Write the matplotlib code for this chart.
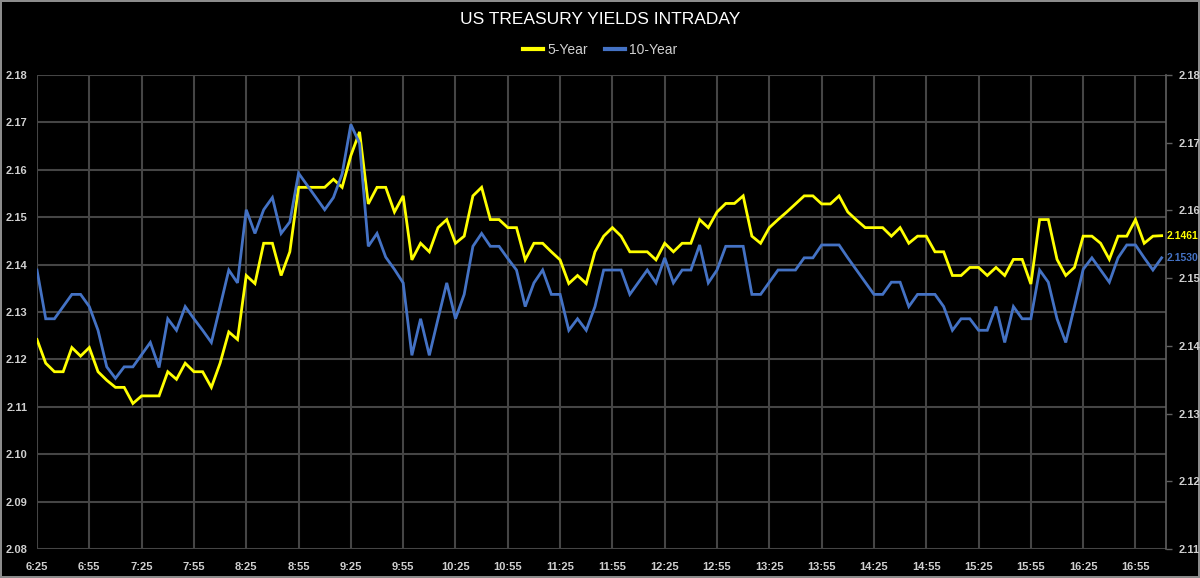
import matplotlib
matplotlib.use("Agg")
import matplotlib.pyplot as plt
import numpy as np

# ---- data ----
tick_labels = ["6:25", "6:55", "7:25", "7:55", "8:25", "8:55", "9:25", "9:55",
               "10:25", "10:55", "11:25", "11:55", "12:25", "12:55", "13:25",
               "13:55", "14:25", "14:55", "15:25", "15:55", "16:25", "16:55"]

five_year = [
    2.1242, 2.1192, 2.1174, 2.1174, 2.1225, 2.1207, 2.1225, 2.1174, 2.1156, 2.1141,
    2.1141, 2.1107, 2.1123, 2.1123, 2.1123, 2.1174, 2.1158, 2.1192, 2.1174, 2.1174,
    2.1141, 2.1192, 2.1258, 2.1242, 2.1377, 2.1360, 2.1445, 2.1445, 2.1377, 2.1427,
    2.1563, 2.1563, 2.1563, 2.1563, 2.1580, 2.1563, 2.1630, 2.1680, 2.1528, 2.1563,
    2.1563, 2.1511, 2.1545, 2.1410, 2.1445, 2.1427, 2.1478, 2.1495, 2.1445, 2.1460,
    2.1545, 2.1563, 2.1495, 2.1495, 2.1478, 2.1478, 2.1410, 2.1445, 2.1445, 2.1427,
    2.1410, 2.1360, 2.1377, 2.1360, 2.1427, 2.1460, 2.1478, 2.1460, 2.1427, 2.1427,
    2.1427, 2.1410, 2.1445, 2.1427, 2.1445, 2.1445, 2.1495, 2.1478, 2.1511, 2.1529,
    2.1529, 2.1545, 2.1460, 2.1445, 2.1478, 2.1495, 2.1511, 2.1528, 2.1545, 2.1545,
    2.1528, 2.1528, 2.1545, 2.1511, 2.1494, 2.1478, 2.1478, 2.1478, 2.1460, 2.1478,
    2.1445, 2.1460, 2.1460, 2.1427, 2.1427, 2.1377, 2.1377, 2.1394, 2.1394, 2.1377,
    2.1394, 2.1377, 2.1411, 2.1411, 2.1359, 2.1495, 2.1495, 2.1411, 2.1377, 2.1394,
    2.1460, 2.1460, 2.1445, 2.1411, 2.1460, 2.1460, 2.1495, 2.1445, 2.1460, 2.1461,
]

ten_year = [
    2.1512, 2.1440, 2.1440, 2.1458, 2.1476, 2.1476, 2.1458, 2.1423, 2.1369, 2.1352,
    2.1369, 2.1369, 2.1387, 2.1405, 2.1368, 2.1440, 2.1423, 2.1458, 2.1440, 2.1423,
    2.1405, 2.1458, 2.1512, 2.1493, 2.1601, 2.1566, 2.1601, 2.1619, 2.1566, 2.1583,
    2.1655, 2.1637, 2.1619, 2.1601, 2.1619, 2.1654, 2.1727, 2.1699, 2.1547, 2.1566,
    2.1531, 2.1513, 2.1493, 2.1386, 2.1440, 2.1386, 2.1440, 2.1493, 2.1440, 2.1476,
    2.1547, 2.1566, 2.1547, 2.1547, 2.1529, 2.1512, 2.1458, 2.1493, 2.1512, 2.1476,
    2.1476, 2.1423, 2.1440, 2.1423, 2.1458, 2.1512, 2.1512, 2.1512, 2.1476, 2.1494,
    2.1512, 2.1493, 2.1530, 2.1493, 2.1512, 2.1512, 2.1549, 2.1493, 2.1512, 2.1547,
    2.1547, 2.1547, 2.1476, 2.1476, 2.1494, 2.1512, 2.1512, 2.1512, 2.1530, 2.1530,
    2.1549, 2.1549, 2.1549, 2.1530, 2.1512, 2.1494, 2.1476, 2.1476, 2.1494, 2.1494,
    2.1458, 2.1476, 2.1476, 2.1476, 2.1458, 2.1423, 2.1440, 2.1440, 2.1423, 2.1423,
    2.1458, 2.1405, 2.1458, 2.1440, 2.1440, 2.1512, 2.1494, 2.1440, 2.1405, 2.1458,
    2.1513, 2.1530, 2.1512, 2.1494, 2.1530, 2.1549, 2.1549, 2.1530, 2.1512, 2.1530,
]

left_ticks = [2.08, 2.09, 2.10, 2.11, 2.12, 2.13, 2.14, 2.15, 2.16, 2.17, 2.18]
right_ticks = [2.11, 2.12, 2.13, 2.14, 2.15, 2.16, 2.17, 2.18]

# ---- style ----
YELLOW = "#ffff00"
BLUE = "#4472c4"
GRID = "#454545"
TXT = "#d0d0d0"

plt.rcParams["font.family"] = ["Liberation Sans", "DejaVu Sans"]

fig = plt.figure(figsize=(12, 5.78), dpi=100, facecolor="black")
fig.patch.set_edgecolor("#8c8c8c")
fig.patch.set_linewidth(1.5)

ax = fig.add_axes([37 / 1200, 1 - 549 / 578, (1166 - 37) / 1200, (549 - 75) / 578])
ax.set_facecolor("black")
ax2 = ax.twinx()

x = np.arange(len(five_year))
ax.plot(x, five_year, color=YELLOW, lw=2.0, solid_joinstyle="miter", zorder=3, label="5-Year")
ax2.plot(x, ten_year, color=BLUE, lw=2.0, solid_joinstyle="miter", zorder=3, label="10-Year")

ax.set_xlim(0, 129.5)
ax.set_ylim(2.08, 2.18)
ax2.set_ylim(2.11, 2.18)

tick_pos = np.arange(len(tick_labels)) * 6
ax.set_xticks(tick_pos)
ax.set_xticklabels(tick_labels)
ax.set_yticks(left_ticks)
ax.set_yticklabels([f"{v:.2f}" for v in left_ticks])
ax2.set_yticks(right_ticks)
ax2.set_yticklabels([f"{v:.2f}" for v in right_ticks])

ax.grid(True, color=GRID, lw=1.5, zorder=0)
ax.set_axisbelow(True)

for a in (ax, ax2):
    for s in a.spines.values():
        s.set_visible(False)
ax2.spines["right"].set_visible(True)
ax2.spines["right"].set_color("#606060")
ax2.spines["right"].set_linewidth(1.2)

ax.tick_params(axis="both", length=0, colors=TXT, labelsize=8)
ax.tick_params(axis="y", pad=7)
ax.tick_params(axis="x", pad=9)
ax2.tick_params(axis="y", length=4, width=1, color="#606060", colors=TXT, labelsize=8, pad=5)
for lab in ax.get_xticklabels() + ax.get_yticklabels() + ax2.get_yticklabels():
    lab.set_fontweight("bold")

# end-value labels
ax.annotate(f"{five_year[-1]:.4f}", xy=(1.0, five_year[-1]), xycoords=("axes fraction", "data"),
            xytext=(0.5, 0), textcoords="offset points", ha="left", va="center",
            color=YELLOW, fontsize=7.5, fontweight="bold", annotation_clip=False)
ax2.annotate(f"{ten_year[-1]:.4f}", xy=(1.0, ten_year[-1]), xycoords=("axes fraction", "data"),
             xytext=(0.5, 0), textcoords="offset points", ha="left", va="center",
             color=BLUE, fontsize=7.5, fontweight="bold", annotation_clip=False)

fig.text(0.5, 1 - 20 / 578, "US TREASURY YIELDS INTRADAY", ha="center", va="center",
         color="white", fontsize=12.5)

h1, l1 = ax.get_legend_handles_labels()
h2, l2 = ax2.get_legend_handles_labels()
leg = fig.legend(h1 + h2, l1 + l2, loc="center", bbox_to_anchor=(0.5, 1 - 50 / 578), ncol=2,
                 frameon=False, handlelength=1.45, handletextpad=0.3, columnspacing=1.2,
                 fontsize=10)
for t in leg.get_texts():
    t.set_color(TXT)
for lh in leg.get_lines():
    lh.set_linewidth(3)

fig.savefig("out.png", dpi=100, facecolor="black", edgecolor=fig.patch.get_edgecolor())
